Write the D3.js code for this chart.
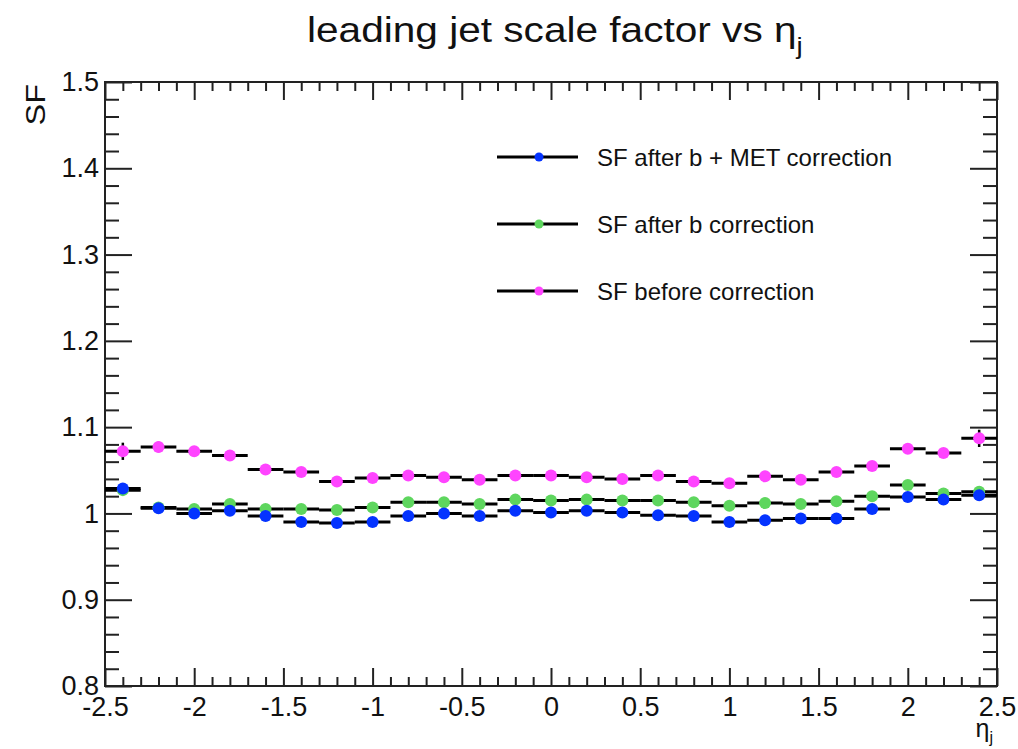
<!DOCTYPE html>
<html><head><meta charset="utf-8">
<script src="https://cdn.jsdelivr.net/npm/d3@7"></script>
<style>body{margin:0;background:#fff}svg{display:block}text{font-family:"Liberation Sans",Arial,sans-serif;fill:#111}</style>
</head><body>
<svg id="c" width="1018" height="749"></svg>
<script>
const etaCenters = [-2.4,-2.2,-2.0,-1.8,-1.6,-1.4,-1.2,-1.0,-0.8,-0.6,-0.4,-0.2,0,0.2,0.4,0.6,0.8,1.0,1.2,1.4,1.6,1.8,2.0,2.2,2.4];
const binHalfWidth = 0.1;
const sfBefore = [1.072,1.077,1.072,1.067,1.051,1.048,1.037,1.041,1.044,1.042,1.039,1.044,1.044,1.042,1.040,1.044,1.037,1.035,1.043,1.039,1.048,1.055,1.075,1.070,1.087];
const sfBeforeErr = [0.010,0.006,0.003,0.003,0.003,0.003,0.003,0.003,0.003,0.003,0.003,0.003,0.003,0.003,0.003,0.003,0.003,0.003,0.003,0.003,0.003,0.003,0.004,0.004,0.010];
const sfAfterB = [1.027,1.007,1.005,1.011,1.005,1.005,1.004,1.007,1.013,1.013,1.011,1.016,1.015,1.016,1.015,1.015,1.013,1.009,1.012,1.011,1.014,1.020,1.033,1.023,1.025];
const sfAfterBErr = [0.006,0.003,0.003,0.003,0.003,0.003,0.003,0.003,0.003,0.003,0.003,0.003,0.003,0.003,0.003,0.003,0.003,0.003,0.003,0.003,0.003,0.003,0.003,0.003,0.006];
const sfAfterBMET = [1.029,1.006,1.000,1.003,0.997,0.990,0.989,0.990,0.997,1.000,0.997,1.003,1.001,1.003,1.001,0.998,0.997,0.990,0.992,0.994,0.994,1.005,1.019,1.016,1.021];
const sfAfterBMETErr = [0.006,0.003,0.003,0.003,0.003,0.003,0.003,0.003,0.003,0.003,0.003,0.003,0.003,0.003,0.003,0.003,0.003,0.003,0.003,0.003,0.003,0.003,0.003,0.003,0.006];
const seriesNames = ["SF after b + MET correction","SF after b correction","SF before correction"];
const seriesColors = ["#0433ff","#5ed65e","#ff44ff"];
const xMajorTicks = [-2.5,-2,-1.5,-1,-0.5,0,0.5,1,1.5,2,2.5];
const xTickLabels = ["-2.5","-2","-1.5","-1","-0.5","0","0.5","1","1.5","2","2.5"];
const yMajorTicks = [0.8,0.9,1.0,1.1,1.2,1.3,1.4,1.5];
const yTickLabels = ["0.8","0.9","1","1.1","1.2","1.3","1.4","1.5"];

const L=105, R=997, T=82, B=686;
const svg = d3.select("#c");
const x = d3.scaleLinear().domain([-2.5,2.5]).range([L,R]);
const y = d3.scaleLinear().domain([0.8,1.5]).range([B,T]);

const xMinor = d3.range(-25,26).map(d=>d/10).filter(v=>Math.abs(v*2-Math.round(v*2))>1e-6);
const yMinor = d3.range(40,76,1).map(d=>d/50).filter(v=>Math.abs(v*10-Math.round(v*10))>1e-6);

function styleAxis(g){ g.select(".domain").remove(); g.selectAll("line").attr("stroke","#222").attr("stroke-width",2); g.selectAll("text").attr("fill","#111"); }

// bottom
svg.append("g").attr("transform",`translate(0,${B})`)
  .call(d3.axisBottom(x).tickValues(xMajorTicks).tickSize(-18).tickPadding(11).tickFormat((d,i)=>xTickLabels[i]))
  .call(styleAxis).selectAll("text").attr("font-size",27).attr("font-family","Liberation Sans");
svg.append("g").attr("transform",`translate(0,${B})`)
  .call(d3.axisBottom(x).tickValues(xMinor).tickSize(-9).tickFormat("")).call(styleAxis);
// top
svg.append("g").attr("transform",`translate(0,${T})`)
  .call(d3.axisTop(x).tickValues(xMajorTicks).tickSize(-18).tickFormat("")).call(styleAxis);
svg.append("g").attr("transform",`translate(0,${T})`)
  .call(d3.axisTop(x).tickValues(xMinor).tickSize(-9).tickFormat("")).call(styleAxis);
// left
svg.append("g").attr("transform",`translate(${L},0)`)
  .call(d3.axisLeft(y).tickValues(yMajorTicks).tickSize(-27).tickPadding(6).tickFormat((d,i)=>yTickLabels[i]))
  .call(styleAxis).selectAll("text").attr("font-size",27).attr("font-family","Liberation Sans");
svg.append("g").attr("transform",`translate(${L},0)`)
  .call(d3.axisLeft(y).tickValues(yMinor).tickSize(-14).tickFormat("")).call(styleAxis);
// right
svg.append("g").attr("transform",`translate(${R},0)`)
  .call(d3.axisRight(y).tickValues(yMajorTicks).tickSize(-27).tickFormat("")).call(styleAxis);
svg.append("g").attr("transform",`translate(${R},0)`)
  .call(d3.axisRight(y).tickValues(yMinor).tickSize(-14).tickFormat("")).call(styleAxis);
// frame
svg.append("rect").attr("x",L).attr("y",T).attr("width",R-L).attr("height",B-T).attr("fill","none").attr("stroke","#222").attr("stroke-width",2);

const series = [
  {vals:sfAfterBMET, err:sfAfterBMETErr, color:seriesColors[0]},
  {vals:sfAfterB, err:sfAfterBErr, color:seriesColors[1]},
  {vals:sfBefore, err:sfBeforeErr, color:seriesColors[2]}
];
const gData = svg.append("g");
series.slice().reverse().forEach(s=>{
  const g = gData.append("g");
  g.selectAll("line.h").data(etaCenters).join("line")
    .attr("x1",(d)=>x(d-binHalfWidth)).attr("x2",(d)=>x(d+binHalfWidth))
    .attr("y1",(d,i)=>y(s.vals[i])).attr("y2",(d,i)=>y(s.vals[i]))
    .attr("stroke","#000").attr("stroke-width",3);
  g.selectAll("line.v").data(etaCenters).join("line")
    .attr("x1",d=>x(d)).attr("x2",d=>x(d))
    .attr("y1",(d,i)=>y(s.vals[i]-s.err[i])).attr("y2",(d,i)=>y(s.vals[i]+s.err[i]))
    .attr("stroke","#000").attr("stroke-width",2.5);
});
series.slice().reverse().forEach(s=>{
  gData.append("g").selectAll("circle").data(etaCenters).join("circle")
    .attr("cx",d=>x(d)).attr("cy",(d,i)=>y(s.vals[i])).attr("r",6).attr("fill",s.color);
});

// legend
const legY = [157,224,291];
const lg = svg.append("g");
seriesNames.forEach((n,i)=>{
  lg.append("line").attr("x1",497).attr("x2",578).attr("y1",legY[i]).attr("y2",legY[i]).attr("stroke","#000").attr("stroke-width",3);
  lg.append("circle").attr("cx",539).attr("cy",legY[i]).attr("r",4.5).attr("fill",seriesColors[i]);
  lg.append("text").attr("x",597).attr("y",legY[i]).attr("dy","0.36em").attr("font-size",24).text(n);
});

// title
const t = svg.append("text").attr("transform","translate(307,42) scale(1.16,1)").attr("font-size",35);
t.append("tspan").text("leading jet scale factor vs η");
t.append("tspan").attr("dy",12).attr("font-size",24).text("j");

// y title
svg.append("text").attr("transform","translate(45,84) rotate(-90) scale(1.2,1)").attr("text-anchor","end").attr("font-size",27).text("SF");
// x title
const xt = svg.append("text").attr("x",993).attr("y",737).attr("text-anchor","end").attr("font-size",25);
xt.append("tspan").text("η");
xt.append("tspan").attr("dy",6).attr("font-size",16).text("j");
</script>
</body></html>
